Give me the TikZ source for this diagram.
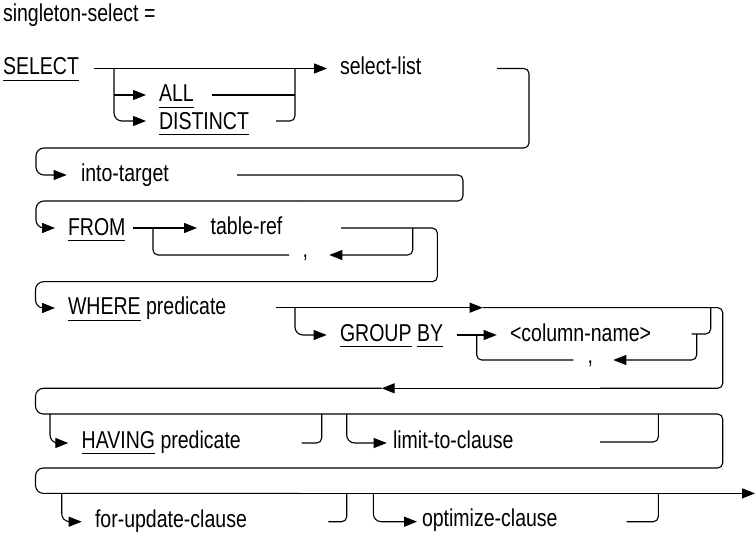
\documentclass[tikz,border=0pt]{standalone}
\usepackage{fontspec}
\setmainfont{Liberation Sans}[FakeStretch=0.8]
\usetikzlibrary{arrows.meta}
% keyword with underline
\newcommand{\kwline}[1]{\setbox0\hbox{#1}\rlap{\rule[-6pt]{\wd0}{1pt}}\box0\relax}

\begin{document}
\begin{tikzpicture}[x=1pt, y=-1pt, line width=1.1pt,
    font=\fontsize{24.4}{28}\selectfont,
    txt/.style={anchor=base west, inner sep=0pt, outer sep=0pt},
    arr/.style={-{Triangle[length=13pt,width=10pt]}},
    lc/.style={rounded corners=8pt},
    rc/.style={rounded corners=5pt}]
        \useasboundingbox(0,0)rectangle(755,534);
        \node[txt](title)at(3,21.5){singleton-select =};
        % SELECT
        \node[txt](select)at(3,75){\kwline{SELECT}};
        \node[txt](all)at(159,102){\kwline{ALL}};
        \node[txt](distinct)at(159,129.5){\kwline{DISTINCT}};
        \node[txt](sellist)at(340,75){select-list};
        \coordinate(s0)at(94,68.5);
        \coordinate(s1)at(114,68.5);
        \coordinate(s2)at(295,68.5);
        \coordinate(s3)at(327,68.5);
        \path[draw, arr](s0)--(s3);
        \path[draw, arr](114,95)--(146,95);
        \path[draw, arr, lc](s1)|-(146,121);
        \path[draw](212,95)--(295,95);
        \path[draw, rc](276,121)-|(s2);
        % select-list -> into-target
        \coordinate(w1)at(300,148);
        \path[draw, rc](497,68.5)--(529,68.5)--(529,148)--(w1);
        \path[draw, lc, arr](w1)--(36,148)--(36,175)--(66.7,175);
        \node[txt](into)at(81,182){into-target};
        % into-target -> FROM
        \coordinate(w2)at(300,201);
        \path[draw, rc](237,175)--(463,175)--(463,201)--(w2);
        \path[draw, lc, arr](w2)--(36,201)--(36,228)--(55,228);
        % FROM
        \node[txt](from)at(68,235.5){\kwline{FROM}};
        \node[txt](tabref)at(210.7,235){table-ref};
        \coordinate(f0)at(133,228);
        \coordinate(f1)at(153,228);
        \coordinate(f2)at(197,228);
        \coordinate(f3)at(412.7,228);
        \path[draw, arr](f0)--(f2);
        \path[draw, rc](f1)|-(289,255);
        \node[txt](comma1)at(302.7,258){,};
        \path[draw, rc, arr](f3)|-(329.3,255);
        \coordinate(w3)at(300,281.7);
        \path[draw, rc](341,228)--(437.3,228)--(437.3,281.7)--(w3);
        \path[draw, lc, arr](w3)--(35.5,281.7)--(35.5,308)--(55,308);
        % WHERE
        \node[txt](where)at(68,315){\kwline{WHERE} predicate};
        \coordinate(h0)at(276,307.7);
        \coordinate(h1)at(295,307.7);
        \coordinate(h2)at(482.7,307.7);
        \coordinate(h3)at(710.7,307.7);
        \path[draw, arr](h0)--(h2);
        \coordinate(w4)at(600,388.3);
        \coordinate(w5)at(381.7,388.3);
        \path[draw, rc](h2)--(722.7,307.7)--(722.7,388.3)--(w4);
        \path[draw, arr](w4)--(w5);
        % GROUP BY
        \path[draw, lc, arr](h1)|-(326.7,335);
        \node[txt](groupby)at(340,341.5){\kwline{GROUP} \kwline{BY}};
        \node[txt](colname)at(510,341.5){<column-name>};
        \path[draw, arr](456.7,335)--(496.7,335);
        \path[draw, rc](476.7,335)|-(573.3,360);
        \node[txt](comma2)at(587.7,363.5){,};
        \path[draw, rc, arr](696.7,334)|-(613.3,360);
        \path[draw, rc](691.7,334)-|(h3);
        % HAVING, limit-to
        \coordinate(w6)at(300,414);
        \coordinate(w7)at(300,468);
        \path[draw, lc](w5)--(35.5,388.3)--(35.5,414)--(w6);
        \path[draw, rc](w6)--(722.7,414)--(722.7,468)--(w7);
        \path[draw, lc, arr](50,414)|-(68.3,443);
        \node[txt](having)at(81.7,448.5){\kwline{HAVING} predicate};
        \path[draw, rc](301.7,443)-|(321.7,414);
        \path[draw, lc, arr](346.7,414)|-(386.7,443);
        \node[txt](limit)at(393,448.3){limit-to-clause};
        \path[draw, rc](600,442)-|(658.3,414);
        % for-update, optimize
        \coordinate(w8)at(300,493.4);
        \coordinate(e)at(755,493.4);
        \path[draw, lc](w7)--(35.5,468)--(35.5,493.4)--(w8);
        \path[draw, arr](w8)--(e);
        \path[draw, lc, arr](61.7,493.4)|-(81.7,521.7);
        \node[txt](forupd)at(95,527){for-update-clause};
        \path[draw, rc](328.3,521.7)-|(346.7,493.4);
        \path[draw, lc, arr](373.3,493.4)|-(417,521.7);
        \node[txt](optim)at(422,526.5){optimize-clause};
        \path[draw, rc](626.7,521.7)-|(658.3,493.4);
    \end{tikzpicture}
\end{document}
